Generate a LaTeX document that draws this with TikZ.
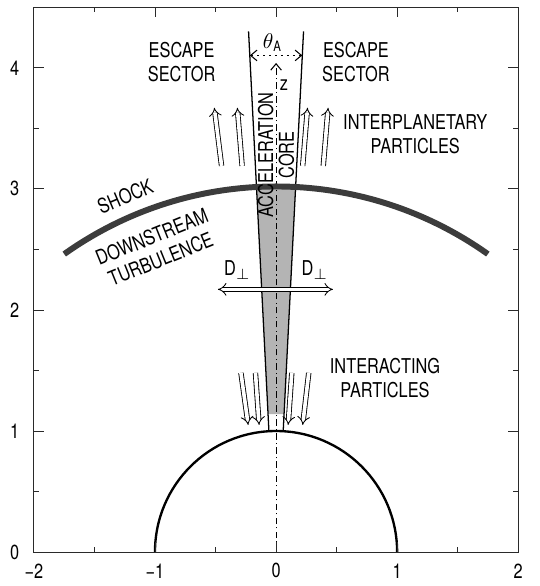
\documentclass[tikz,border=0pt]{standalone}
\usepackage{fontspec}
\setmainfont{TeX Gyre Heros}[FakeStretch=0.8]
\definecolor{ShockGray}{HTML}{3C3C3C}
\definecolor{CoreGray}{HTML}{B4B4B4}
\definecolor{AxisGray}{HTML}{2A2A2A}
\usetikzlibrary{arrows.meta, calc}
\tikzset{
	particle/.style={double, double distance=1.7pt, line width=0.4pt, -{Implies}},
	chevron/.tip={Straight Barb[length=3pt, width=5pt, line width=0.5pt]}
}

\begin{document}
\begin{tikzpicture}[x=2cm, y=2cm, font=\fontsize{9.6}{11.3}\selectfont]
		\useasboundingbox (-2.28,-0.28) rectangle (2.18,4.56);
		
		\coordinate (L0) at (-0.059, 1);
		\coordinate (L1) at (-0.227, 4.3);
		\coordinate (R0) at (0.059, 1);
		\coordinate (R1) at (0.227, 4.3);
		
		\begin{scope}
			\clip (0,0) circle (3.02);
			\fill[CoreGray] ($(L0)!0.042!(L1)$) -- ($(R0)!0.042!(R1)$) -- ($(R0)!0.7!(R1)$) -- ($(L0)!0.7!(L1)$) -- cycle;
		\end{scope}
		
		\draw[line width=1.1pt] (1,0) arc (0:180:1);
		
		\draw[semithick] (L0) -- (L1);
		\draw[semithick] (R0) -- (R1);
		
		\coordinate (sun) at (0, 0);
		\coordinate (ztip) at (0, 4.04);
		\draw[dash pattern=on 3pt off 1.5pt on 0.6pt off 1.5pt, -{chevron}] (sun) -- (ztip);
		
		\coordinate (thL) at ($(L0)!0.94!(L1)$);
		\coordinate (thR) at ($(R0)!0.94!(R1)$);
		\draw[dotted, thick, {chevron}-{chevron}] (thL) -- (thR);
		
		\draw[ShockGray, line width=2.8pt] (54.6:3.02) arc (54.6:125.4:3.02);
		
		\foreach \xa/\xb in {-0.45/-0.51, -0.28/-0.32, 0.22/0.26, 0.39/0.43}
			\draw[particle] (\xa, 3.19) -- (\xb, 3.67);
		
		\foreach \xa/\xb in {-0.29/-0.23, -0.17/-0.14, 0.13/0.10, 0.27/0.22}
			\draw[particle] (\xa, 1.48) -- (\xb, 1.05);
		
		\coordinate (dperpL) at (-0.48, 2.17);
		\coordinate (dperpR) at (0.47, 2.17);
		\draw[particle, {Implies}-{Implies}] (dperpL) -- (dperpR);
		
		\node (escL) [align=center] at (-0.78, 4.05) {ESCAPE\\SECTOR};
		\node (escR) [align=center] at (0.66, 4.05) {ESCAPE\\SECTOR};
		\node (interplanetary) [align=center] at (1.15, 3.455) {INTERPLANETARY\\PARTICLES};
		\node (interacting) [align=center] at (0.9, 1.44) {INTERACTING\\PARTICLES};
		\node (shock) [rotate=23] at (113:3.19) {SHOCK};
		\node (turb) [rotate=22, align=center] at (111.5:2.70) {DOWNSTREAM\\TURBULENCE};
		\node (core) [rotate=90, align=center, font=\fontsize{9.6}{9.8}\selectfont] at (0, 3.28) {ACCELERATION\\CORE};
		\node (dL) at (-0.32, 2.33) {D$_\perp$};
		\node (dR) at (0.32, 2.33) {D$_\perp$};
		\node (theta) at (-0.03, 4.21) {$\theta$\textsubscript{A}};
		\node (z) at (0.065, 3.86) {z};
		
		\draw[AxisGray, line width=0.5pt] (-2,0) rectangle (2,4.5);
		\foreach \x/\lab in {-2/−2, -1/−1, 0/0, 1/1, 2/2} {
			\draw[AxisGray] (\x,0) -- ++(0,0.083);
			\draw[AxisGray] (\x,4.5) -- ++(0,-0.083);
			\node at (\x,-0.155) {\lab};
		}
		\foreach \x in {-1.5,-0.5,0.5,1.5} {
			\draw[AxisGray] (\x,0) -- ++(0,0.042);
			\draw[AxisGray] (\x,4.5) -- ++(0,-0.042);
		}
		\foreach \y in {0,...,4} {
			\draw[AxisGray] (-2,\y) -- ++(0.083,0);
			\draw[AxisGray] (2,\y) -- ++(-0.083,0);
			\node[anchor=east] at (-2.06,\y) {\y};
		}
		\foreach \y in {0.5,1.5,2.5,3.5} {
			\draw[AxisGray] (-2,\y) -- ++(0.042,0);
			\draw[AxisGray] (2,\y) -- ++(-0.042,0);
		}
	\end{tikzpicture}
\end{document}
